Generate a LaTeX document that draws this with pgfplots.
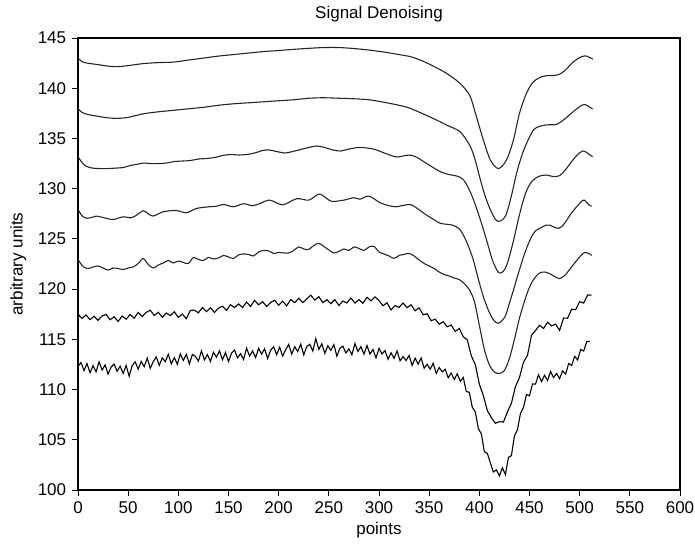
\documentclass[border=0pt]{standalone}
\usepackage{fontspec}
\setmainfont{Liberation Sans}
\usepackage{pgfplots}
\usepackage{pgfplotstable}
\pgfplotsset{compat=1.18}
\pgfplotstableread[row sep=\\,header=false]{
112.30\\112.69\\111.89\\112.58\\111.68\\112.37\\111.76\\112.76\\111.95\\112.45\\111.54\\112.23\\112.53\\111.82\\112.32\\111.61\\
112.40\\111.32\\112.39\\112.76\\112.03\\112.80\\112.27\\113.14\\112.11\\112.78\\113.25\\112.41\\113.15\\112.78\\113.51\\112.55\\
113.18\\112.52\\113.55\\112.89\\113.52\\112.55\\113.49\\113.31\\112.83\\113.85\\112.96\\113.48\\112.80\\113.71\\113.23\\113.85\\
112.97\\113.68\\112.80\\113.62\\113.94\\113.16\\113.58\\113.00\\114.12\\113.34\\113.86\\113.18\\114.10\\113.53\\114.06\\113.09\\
113.92\\114.25\\113.48\\114.21\\113.34\\113.97\\114.50\\113.53\\114.26\\113.79\\114.52\\113.45\\114.28\\114.51\\113.84\\115.07\\
114.00\\114.56\\113.61\\114.37\\113.92\\114.48\\113.33\\114.11\\114.32\\113.64\\114.05\\113.47\\114.58\\113.80\\114.27\\113.53\\
114.38\\113.54\\113.99\\113.15\\114.10\\113.54\\113.88\\113.02\\113.66\\113.10\\113.84\\112.87\\113.28\\112.89\\113.40\\112.41\\
113.12\\112.53\\113.13\\112.13\\112.52\\112.02\\112.61\\111.61\\112.20\\111.76\\112.02\\111.18\\111.64\\111.00\\111.57\\110.83\\
111.20\\109.81\\109.73\\108.23\\107.78\\106.11\\105.59\\103.81\\103.65\\102.69\\101.80\\102.00\\101.40\\102.21\\101.53\\103.25\\
103.43\\105.40\\106.00\\107.63\\108.21\\109.50\\109.38\\110.56\\110.54\\111.48\\110.80\\111.42\\110.90\\111.80\\111.20\\111.60\\
111.08\\111.86\\111.54\\112.59\\112.41\\113.31\\112.95\\113.99\\113.83\\114.77\\114.81\\
}\curveG
\pgfplotstableread[row sep=\\,header=false]{
117.50\\117.09\\117.43\\116.96\\117.30\\116.89\\117.33\\117.47\\116.95\\117.24\\116.78\\117.32\\117.01\\117.47\\117.10\\117.68\\
117.27\\117.68\\117.90\\117.38\\117.70\\117.19\\117.62\\117.36\\117.74\\117.18\\117.51\\117.05\\117.88\\117.91\\117.64\\118.18\\
117.76\\118.15\\117.68\\118.11\\118.30\\117.88\\118.45\\118.16\\118.52\\118.17\\118.71\\118.27\\118.88\\118.44\\118.75\\118.27\\
118.68\\118.89\\118.40\\118.79\\118.33\\118.96\\118.65\\119.09\\118.65\\119.02\\119.39\\118.91\\119.25\\118.65\\118.95\\118.55\\
118.95\\118.37\\118.82\\118.62\\119.11\\118.61\\118.95\\118.59\\119.19\\118.83\\119.22\\118.86\\118.35\\118.64\\117.93\\118.37\\
118.17\\118.62\\118.16\\118.44\\117.84\\118.14\\117.44\\117.55\\116.84\\117.02\\116.51\\116.75\\116.26\\116.42\\115.78\\116.09\\
115.25\\114.95\\113.35\\112.48\\110.54\\109.40\\107.90\\107.20\\106.65\\106.80\\106.76\\107.77\\108.65\\110.30\\111.20\\112.71\\
113.41\\115.40\\115.88\\116.40\\116.08\\116.71\\116.34\\116.52\\115.90\\117.12\\117.10\\118.00\\117.95\\118.75\\118.61\\119.42\\119.40\\
}\curveF
\begin{document}
\fontsize{17}{20}\selectfont
\begin{tikzpicture}
\begin{axis}[
  scale only axis, width=602pt, height=452pt,
  xmin=0, xmax=600, ymin=100, ymax=145,
  xtick={0,50,...,600}, ytick={100,105,...,145},
  tick align=outside, tick pos=left,
  major tick length=6pt,
  tick style={black, line width=0.8pt},
  axis line style={line width=1.1pt},
  title={Signal Denoising}, xlabel={points}, ylabel={arbitrary units},
  tick label style={font=\fontsize{17}{20}\selectfont},
  label style={font=\fontsize{17}{20}\selectfont},
  title style={font=\fontsize{17}{20}\selectfont, yshift=4pt},
  xlabel style={yshift=3pt},
  /pgf/number format/assume math mode=true,
]
\coordinate (sw) at (rel axis cs:0,0);
\coordinate (ne) at (rel axis cs:1,1);
% curve 1 (most smoothed)
\addplot[black!85, line width=1.1pt, smooth] coordinates {(0,143.0) (4,142.65) (9,142.5) (20,142.35) (30,142.2) (40,142.15) (50,142.25) (65,142.45) (80,142.55) (95,142.6) (110,142.8) (125,143.0) (140,143.2) (155,143.35) (170,143.5) (185,143.65) (200,143.75) (215,143.87) (230,143.97) (245,144.05) (260,144.05) (275,143.95) (290,143.8) (305,143.6) (320,143.35) (331,143.15) (340,142.85) (348,142.5) (358,142.0) (367,141.5) (377,140.8) (384,140.15) (391,139.15) (397,137.2) (404,134.85) (411,132.85) (419,132.0) (427,132.85) (434,134.85) (440,137.5) (447,139.5) (454,140.65) (464,141.2) (477,141.3) (484,141.65) (494,142.65) (502,143.15) (507,143.2) (510,143.05) (513,142.9)};
% curve 2
\addplot[black!85, line width=1.1pt, smooth] coordinates {(0,137.95) (4,137.6) (9,137.4) (20,137.2) (30,137.05) (40,137.0) (50,137.1) (65,137.45) (80,137.65) (95,137.8) (110,137.95) (125,138.1) (140,138.3) (155,138.45) (170,138.55) (185,138.65) (200,138.75) (215,138.85) (230,139.0) (245,139.05) (260,139.0) (275,138.95) (290,138.85) (305,138.6) (320,138.3) (331,138.0) (345,137.4) (358,136.8) (368,136.3) (381,135.65) (391,134.2) (396,132.8) (401,130.9) (406,129.2) (411,127.9) (416,126.95) (419,126.75) (423,126.9) (427,127.5) (432,129.3) (437,131.5) (442,133.2) (447,134.5) (454,135.85) (460,136.2) (467,136.35) (477,136.4) (484,136.85) (494,137.7) (502,138.3) (506,138.35) (510,138.1) (513,137.95)};
% curve 3
\addplot[black!85, line width=1.1pt, smooth] coordinates {(0,133.2) (4,132.6) (8,132.25) (14,132.05) (22,132.0) (30,132.0) (38,132.05) (45,132.1) (52,132.3) (60,132.45) (66,132.55) (72,132.5) (80,132.5) (88,132.55) (96,132.7) (104,132.75) (112,132.8) (120,132.95) (128,133.0) (136,133.1) (144,133.3) (152,133.4) (160,133.35) (168,133.4) (176,133.55) (184,133.8) (190,133.85) (198,133.7) (206,133.55) (214,133.7) (222,133.9) (230,134.1) (238,134.25) (246,134.1) (254,133.85) (262,133.75) (270,133.95) (280,134.1) (288,134.05) (296,133.9) (304,133.6) (312,133.3) (318,133.15) (324,133.25) (331,133.35) (338,133.1) (346,132.6) (354,132.1) (362,131.65) (370,131.4) (378,131.25) (384,130.9) (390,129.9) (396,128.4) (402,126.6) (408,124.6) (413,122.9) (418,121.8) (421,121.6) (425,121.9) (429,122.9) (434,124.8) (439,127.0) (444,128.9) (448,130.0) (453,130.8) (460,131.25) (467,131.35) (474,131.2) (480,131.3) (486,131.9) (492,132.7) (498,133.4) (503,133.75) (507,133.6) (511,133.3) (513,133.2)};
% curve 4
\addplot[black!85, line width=1.1pt, smooth] coordinates {(0,127.95) (4,127.3) (8.6,127.05) (14,127.15) (18.5,127.27) (26,127.1) (35,126.93) (45,127.2) (53,127.1) (59,127.4) (65,127.8) (70,127.5) (75,127.27) (85,127.7) (98,127.83) (108,127.6) (118,128.03) (131,128.2) (138,128.25) (145,128.43) (155,128.2) (165,128.5) (174,128.3) (182,128.55) (191,128.86) (204,128.4) (218,129.0) (230,128.86) (240,129.46) (247,129.1) (253,128.73) (265,128.86) (275,129.1) (281,128.95) (290,129.26) (301,128.6) (310,128.3) (317,128.2) (325,128.35) (332,128.4) (340,127.9) (347,127.4) (355,126.9) (361,126.55) (368,126.45) (374,126.35) (380,126.0) (384,125.4) (389,124.3) (394,122.9) (399,121.0) (404,119.25) (409,117.9) (414,116.95) (419,116.6) (425.6,117.25) (430,118.6) (434,119.9) (439,121.6) (444,123.2) (448,124.3) (452,125.2) (456,125.8) (460.5,126.05) (466,126.35) (470.5,126.35) (475,126.15) (479,126.05) (483,126.3) (487,126.85) (492,127.6) (497,128.2) (502,128.75) (505,128.85) (509,128.4) (512,128.25)};
% curve 5
\addplot[black!85, line width=1.1pt, smooth] coordinates {(0,122.95) (5,122.25) (10,122.05) (15,122.2) (20,122.3) (25,122.1) (30,121.9) (35,122.1) (40,122.05) (45,121.95) (50,122.1) (55,122.2) (60,122.55) (65,123.05) (70,122.45) (75,122.1) (80,122.4) (85,122.6) (90,122.85) (95,122.6) (100,122.8) (105,122.65) (110,122.55) (115,123.15) (120,122.95) (125,122.85) (130,123.15) (135,123.0) (140,123.1) (145,123.35) (150,123.2) (155,123.05) (160,123.4) (165,123.5) (170,123.45) (175,123.3) (180,123.7) (185,123.85) (190,123.8) (195,123.55) (200,123.65) (205,123.6) (210,123.6) (215,123.85) (220,124.2) (225,124.0) (230,123.95) (235,124.35) (240,124.55) (245,124.25) (250,123.9) (255,123.6) (260,123.75) (265,124.0) (270,123.85) (275,124.2) (280,124.05) (285,123.85) (290,124.2) (295,124.25) (300,123.7) (305,123.5) (310,123.3) (315,123.05) (320,123.35) (325,123.45) (330,123.55) (335,123.3) (340,122.9) (345,122.55) (350,122.3) (355,122.05) (360,121.7) (365,121.45) (370,121.3) (375,121.1) (380,120.95) (385,120.55) (390,119.95) (395,118.8) (400,116.4) (405,114.0) (410,112.45) (415,111.75) (420,111.6) (425,111.9) (430,113.1) (435,115.0) (440,117.1) (445,118.8) (450,120.2) (455,121.1) (460,121.6) (465,121.7) (470,121.55) (475,121.25) (480,121.05) (485,121.35) (490,121.95) (495,122.6) (500,123.2) (505,123.65) (510,123.5) (512,123.35)};
% curve 6
\addplot[black, line width=1.1pt, mark=none] table[x expr=\coordindex*4, y index=0] {\curveF};
% curve 7 (least smoothed)
\addplot[black, line width=1.1pt, mark=none] table[x expr=\coordindex*3, y index=0] {\curveG};
\end{axis}
\pgfresetboundingbox
\path[use as bounding box] ([xshift=-78pt,yshift=-58pt]sw) rectangle ([xshift=15pt,yshift=38pt]ne);
\end{tikzpicture}
\end{document}
